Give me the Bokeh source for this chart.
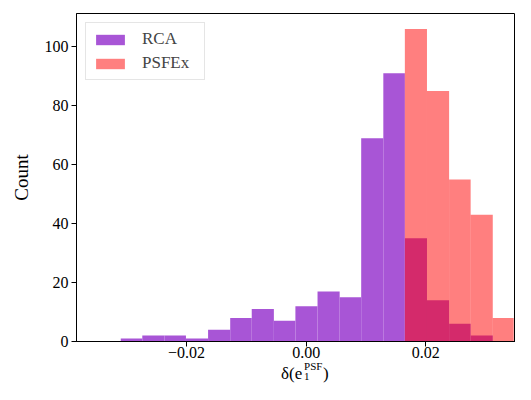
from bokeh.plotting import figure
from bokeh.layouts import column
from bokeh.models import Range1d, FixedTicker, CustomJSTickFormatter, Legend, LegendItem
from bokeh.core.properties import value
from bokeh.embed import file_html
from bokeh.resources import INLINE

# ---- data ----
rca_edges = [-0.0310, -0.0274, -0.0237, -0.0201, -0.0164, -0.0127, -0.0091, -0.0054,
             -0.0018, 0.0019, 0.0056, 0.0092, 0.0129, 0.0165, 0.0202, 0.0239, 0.0275, 0.0312]
rca_counts = [1, 2, 2, 1, 4, 8, 11, 7, 12, 17, 15, 69, 91, 35, 14, 6, 2]

psfex_edges = [0.0165, 0.0202, 0.0239, 0.0275, 0.0312, 0.0347]
psfex_counts = [106, 85, 55, 43, 8]

xtick_values = [-0.02, 0.0, 0.02]
xtick_labels = ["\u22120.02", "0.00", "0.02"]
ytick_values = [0, 20, 40, 60, 80, 100]

series_names = ["RCA", "PSFEx"]
x_label_parts = ["\u03b4(e", "1", "PSF", ")"]   # δ(e_1^PSF)
y_label = "Count"

SERIF = "Liberation Serif"

p = figure(width=515, height=360,
           x_range=Range1d(-0.0384, 0.0350), y_range=Range1d(0, 111.3),
           output_backend="svg", toolbar_location=None,
           min_border_left=76, min_border_right=0, min_border_top=13, min_border_bottom=0)

r_rca = p.quad(left=rca_edges[:-1], right=rca_edges[1:], bottom=0, top=rca_counts,
               fill_color="#a855d6", fill_alpha=1.0, line_color=None)
r_psf = p.quad(left=psfex_edges[:-1], right=psfex_edges[1:], bottom=0, top=psfex_counts,
               fill_color="#ff0000", fill_alpha=0.5, line_color=None)

p.xgrid.visible = False
p.ygrid.visible = False
p.outline_line_color = "black"
p.outline_line_width = 1
p.outline_line_alpha = 1
p.background_fill_color = "white"
p.border_fill_color = "white"

for ax in (p.xaxis[0], p.yaxis[0]):
    ax.axis_line_color = "black"
    ax.major_tick_line_color = "black"
    ax.major_tick_out = 5
    ax.major_tick_in = 0
    ax.minor_tick_line_color = None
    ax.major_label_text_font = SERIF
    ax.major_label_text_font_size = "16px"
    ax.major_label_text_color = "black"
    ax.axis_label_text_font = SERIF
    ax.axis_label_text_font_size = "19px"
    ax.axis_label_text_font_style = "normal"
    ax.axis_label_text_color = "black"

p.xaxis.ticker = FixedTicker(ticks=xtick_values)
p.xaxis.formatter = CustomJSTickFormatter(
    args=dict(vals=xtick_values, labs=xtick_labels),
    code="const i = vals.findIndex(v => Math.abs(v - tick) < 1e-9); return i >= 0 ? labs[i] : '';")
p.xaxis.major_label_standoff = 0

p.yaxis.ticker = FixedTicker(ticks=ytick_values)
p.yaxis.major_label_standoff = 3
p.yaxis.axis_label = y_label
p.yaxis.axis_label_standoff = 10

legend = Legend(items=[LegendItem(label=series_names[0], renderers=[r_rca]),
                       LegendItem(label=series_names[1], renderers=[r_psf])],
                location="top_left", margin=9, padding=6, spacing=4,
                glyph_width=36, glyph_height=13, label_height=17, label_width=56,
                label_standoff=14,
                label_text_font=SERIF, label_text_font_size="17px",
                border_line_color="#cccccc", border_line_width=1,
                background_fill_color="white", background_fill_alpha=0.8)
p.add_layout(legend)

# ---- x-axis label strip: δ(e_1^PSF) built from text pieces ----
q = figure(width=515, height=24, x_range=p.x_range, y_range=Range1d(0, 24),
           output_backend="svg", toolbar_location=None,
           x_axis_location=None, y_axis_location=None, min_border=0,
           min_border_left=76, min_border_right=0, min_border_top=0, min_border_bottom=0)
q.xgrid.visible = False
q.ygrid.visible = False
q.outline_line_color = None
q.background_fill_color = "white"
q.border_fill_color = "white"

lab_x = -0.0042
pieces = [
    (x_label_parts[0], 0, 11.5, "17px"),
    (x_label_parts[1], 23, 8.5, "11px"),
    (x_label_parts[2], 23, 18.5, "11px"),
    (x_label_parts[3], 42, 11.5, "17px"),
]
for txt, dx, ys, fs in pieces:
    q.text(x=[lab_x], y=[ys], text=[txt], x_offset=dx,
           text_font=value(SERIF), text_font_size=fs, text_color="black",
           text_align="left", text_baseline="alphabetic")

layout = column(p, q, spacing=0)
open("out.html", "w").write(file_html(layout, INLINE))
